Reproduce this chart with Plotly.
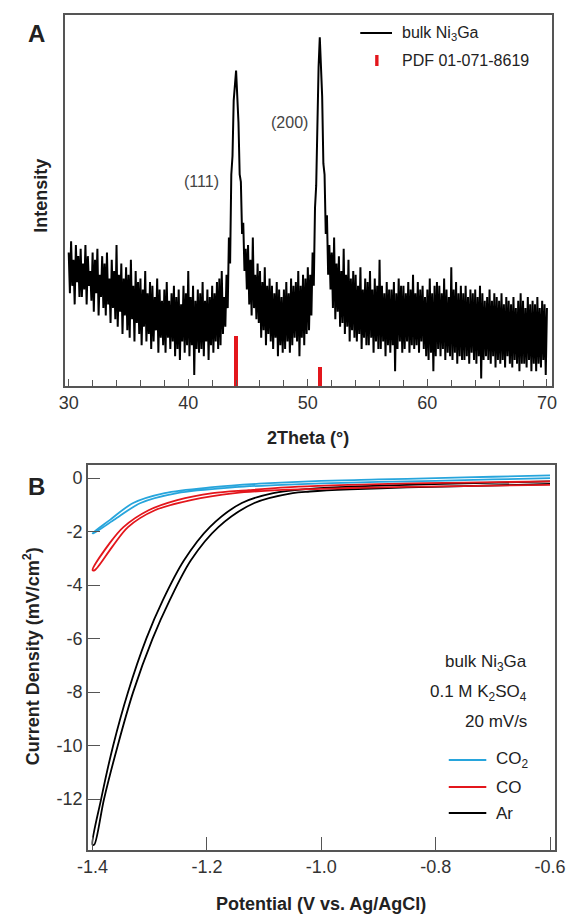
import numpy as np
import plotly.graph_objects as go

W, H = 581, 914

# ---------------- Panel A data (XRD) ----------------
two_theta_start, two_theta_step = 30.0, 0.1
intensity = [
    36, 25, 39, 27, 34, 22, 38, 28, 35, 24,
    37, 24, 33, 26, 38, 22, 35, 27, 31, 23,
    36, 20, 34, 25, 37, 19, 30, 24, 35, 21,
    33, 19, 36, 22, 29, 17, 34, 21, 31, 18,
    38, 16, 30, 20, 33, 14, 29, 19, 32, 15,
    30, 13, 34, 18, 27, 12, 31, 17, 28, 14,
    29, 11, 26, 16, 31, 12, 25, 14, 28, 10,
    27, 12, 24, 15, 29, 9, 26, 13, 23, 11,
    26, 9, 28, 13, 23, 10, 25, 12, 27, 8,
    24, 10, 26, 7, 22, 12, 27, 9, 25, 11,
    31, 8, 24, 11, 27, 3, 23, 10, 26, 9,
    25, 10, 28, 8, 23, 12, 26, 7, 24, 11,
    27, 9, 25, 12, 28, 10, 29, 11, 31, 14,
    24, 16, 30, 21, 40, 33, 57, 62, 77, 82,
    85, 78, 71, 57, 55, 41, 44, 31, 37, 26,
    38, 22, 34, 19, 40, 21, 30, 18, 33, 17,
    31, 13, 28, 15, 32, 11, 27, 14, 29, 12,
    27, 10, 25, 13, 28, 8, 26, 11, 24, 9,
    26, 10, 28, 12, 25, 9, 29, 11, 27, 13,
    28, 12, 31, 8, 27, 13, 30, 11, 29, 14,
    32, 15, 30, 19, 36, 27, 48, 54, 73, 86,
    94, 83, 78, 60, 57, 41, 46, 30, 38, 26,
    36, 21, 40, 18, 33, 20, 35, 16, 31, 17,
    37, 14, 30, 16, 34, 12, 29, 15, 31, 13,
    30, 12, 27, 14, 32, 10, 26, 13, 29, 11,
    28, 11, 31, 13, 26, 9, 29, 12, 27, 10,
    34, 10, 27, 12, 25, 8, 28, 11, 26, 9,
    26, 11, 28, 4, 25, 10, 29, 12, 27, 9,
    27, 10, 25, 12, 28, 9, 26, 11, 30, 10,
    25, 11, 28, 9, 26, 12, 27, 10, 24, 8,
    26, 7, 29, 9, 25, 4, 27, 8, 28, 10,
    27, 8, 25, 10, 29, 7, 26, 9, 24, 8,
    32, 7, 26, 9, 28, 6, 25, 8, 27, 7,
    25, 7, 27, 8, 24, 6, 26, 9, 25, 7,
    26, 6, 24, 8, 27, 2, 25, 7, 23, 8,
    24, 7, 26, 6, 23, 8, 25, 5, 24, 7,
    23, 6, 25, 7, 22, 5, 24, 8, 23, 6,
    22, 5, 24, 7, 21, 6, 23, 4, 25, 6,
    23, 6, 21, 5, 24, 7, 22, 4, 23, 6,
    22, 4, 24, 6, 21, 5, 23, 7, 22, 3,
    21,
]
two_theta = np.round(two_theta_start + two_theta_step * np.arange(len(intensity)), 2)

pdf_positions = [44.0, 51.0]
pdf_heights = [13.5, 5.2]

xrd_ticks = [30, 40, 50, 60, 70]
xrd_ticktext = ["30", "40", "50", "60", "70"]

# ---------------- Panel B data (LSV / CV) ----------------
ar_v_a = [-0.60, -0.75, -0.85, -0.95, -1.02, -1.084, -1.139, -1.195, -1.240, -1.277, -1.306, -1.338, -1.364, -1.385, -1.400]
ar_j_a = [-0.12, -0.20, -0.25, -0.32, -0.40, -0.56, -0.93, -1.83, -3.07, -4.56, -6.0, -8.0, -10.0, -12.0, -13.7]
ar_v_b = [-1.397, -1.380, -1.356, -1.329, -1.295, -1.265, -1.228, -1.180, -1.117, -1.050, -1.02, -0.95, -0.85, -0.75, -0.60]
ar_j_b = [-13.7, -12.0, -10.0, -8.0, -6.0, -4.56, -3.07, -1.83, -0.93, -0.56, -0.50, -0.42, -0.35, -0.30, -0.22]

co_v_a = [-0.60, -0.75, -0.85, -0.95, -1.04, -1.127, -1.190, -1.252, -1.302, -1.346, -1.370, -1.400]
co_j_a = [-0.12, -0.17, -0.20, -0.25, -0.32, -0.45, -0.56, -0.82, -1.20, -1.83, -2.43, -3.44]
co_v_b = [-1.396, -1.365, -1.338, -1.291, -1.228, -1.151, -1.077, -1.00, -0.95, -0.85, -0.75, -0.60]
co_j_b = [-3.44, -2.55, -1.83, -1.20, -0.82, -0.56, -0.45, -0.40, -0.37, -0.33, -0.30, -0.25]

co2_v_a = [-0.60, -0.70, -0.80, -0.90, -1.00, -1.10, -1.190, -1.274, -1.329, -1.370, -1.400]
co2_j_a = [0.10, 0.05, 0.00, -0.05, -0.10, -0.20, -0.34, -0.56, -0.93, -1.57, -2.06]
co2_v_b = [-1.398, -1.363, -1.316, -1.252, -1.151, -1.08, -1.00, -0.90, -0.80, -0.70, -0.60]
co2_j_b = [-2.06, -1.57, -0.93, -0.56, -0.34, -0.26, -0.20, -0.14, -0.10, -0.05, 0.00]

lsv_xticks = [-1.4, -1.2, -1.0, -0.8, -0.6]
lsv_xticktext = ["-1.4", "-1.2", "-1.0", "-0.8", "-0.6"]
lsv_yticks = [0, -2, -4, -6, -8, -10, -12]
lsv_yticktext = ["0", "-2", "-4", "-6", "-8", "-10", "-12"]

gas_names = ["CO<sub>2</sub>", "CO", "Ar"]
gas_colors = ["#27a5dc", "#e3161c", "#000000"]

FONT = "Liberation Sans, Arial, sans-serif"
BOX = "#555555"


def px(x):
    return x / W


def py(y):
    return 1 - y / H


fig = go.Figure()

# Panel A
fig.add_trace(go.Bar(x=pdf_positions, y=pdf_heights, width=0.35,
                     marker=dict(color="#e3161c", line=dict(width=0)),
                     xaxis="x", yaxis="y", showlegend=False))
fig.add_trace(go.Scatter(x=two_theta, y=intensity, mode="lines",
                         line=dict(color="black", width=2.0),
                         xaxis="x", yaxis="y", showlegend=False))

# Panel B (each gas: forward + reverse sweep as a loop)
loops = [
    (ar_v_a + ar_v_b, ar_j_a + ar_j_b, gas_colors[2]),
    (co_v_a + co_v_b, co_j_a + co_j_b, gas_colors[1]),
    (co2_v_a + co2_v_b, co2_j_a + co2_j_b, gas_colors[0]),
]
for v, j, c in loops:
    fig.add_trace(go.Scatter(x=v, y=j, mode="lines",
                             line=dict(color=c, width=1.8, shape="spline", smoothing=0.9),
                             xaxis="x2", yaxis="y2", showlegend=False))

axis_common = dict(showline=True, linecolor=BOX, linewidth=1.5, mirror=True,
                   showgrid=False, zeroline=False, fixedrange=True)

fig.update_layout(
    width=W, height=H,
    margin=dict(l=0, r=0, t=0, b=0),
    paper_bgcolor="white", plot_bgcolor="white",
    font=dict(family=FONT, color="#222"),
    showlegend=False,
    bargap=0,
    xaxis=dict(domain=[px(56), px(562)], range=[29.68, 70.4], anchor="y",
               tickvals=xrd_ticks, ticktext=xrd_ticktext,
               ticks="inside", ticklen=7, tickcolor=BOX, tickwidth=1.3,
               minor=dict(dtick=2, tick0=30, ticks="inside", ticklen=6, tickcolor=BOX, tickwidth=1.2),
               tickfont=dict(size=18, color="#333"), **axis_common),
    yaxis=dict(domain=[py(386), py(15)], range=[0, 100], anchor="x",
               showticklabels=False, ticks="", **axis_common),
    xaxis2=dict(domain=[px(80), px(565)], range=[-1.408, -0.592], anchor="y2",
                tickvals=lsv_xticks, ticktext=lsv_xticktext,
                ticks="inside", ticklen=13, tickcolor=BOX, tickwidth=1.3,
                tickfont=dict(size=18, color="#333"), **axis_common),
    yaxis2=dict(domain=[py(850), py(465)], range=[-13.9, 0.49], anchor="x2",
                tickvals=lsv_yticks, ticktext=lsv_yticktext,
                ticks="inside", ticklen=12, tickcolor=BOX, tickwidth=1.3,
                tickfont=dict(size=18, color="#333"), **axis_common),
)

ann = []


def text(x, y, s, size=16, bold=False, xanchor="center", color="#222", angle=0):
    if bold:
        s = "<b>" + s + "</b>"
    ann.append(dict(x=px(x), y=py(y), xref="paper", yref="paper", text=s, showarrow=False,
                    xanchor=xanchor, yanchor="middle", textangle=angle,
                    font=dict(size=size, color=color, family=FONT)))


# Panel A texts
text(26, 33, "A", size=24, bold=True)
text(31, 196, "Intensity", size=18, bold=True, angle=-90)
text(309, 438, "2Theta (°)", size=18, bold=True)
text(198, 181, "(111)", size=16, color="#444")
text(289, 123, "(200)", size=16, color="#444")
text(404, 33, "bulk Ni<sub>3</sub>Ga", size=16, xanchor="left")
text(404, 60, "PDF 01-071-8619", size=16, xanchor="left")

# Panel B texts
text(27, 487, "B", size=24, bold=True)
text(21, 656, "Current Density (mV/cm<sup>2</sup>)", size=18, bold=True, angle=-90)
text(322, 904, "Potential (V vs. Ag/AgCl)", size=18, bold=True)
text(538, 663, "bulk Ni<sub>3</sub>Ga", size=17, xanchor="right")
text(538, 693, "0.1 M K<sub>2</sub>SO<sub>4</sub>", size=17, xanchor="right")
text(538, 721, "20 mV/s", size=17, xanchor="right")
legend_y = [760, 787, 813]
for name, c, yy in zip(gas_names, gas_colors, legend_y):
    text(502, yy, name, size=17, xanchor="left")

fig.update_layout(annotations=ann)

shapes = [
    dict(type="line", xref="paper", yref="paper", x0=px(363), x1=px(396), y0=py(33), y1=py(33),
         line=dict(color="black", width=2.2)),
    dict(type="rect", xref="paper", yref="paper", x0=px(378.5), x1=px(382), y0=py(55), y1=py(66),
         line=dict(width=0), fillcolor="#e3161c"),
]
for c, yy in zip(gas_colors, legend_y):
    shapes.append(dict(type="line", xref="paper", yref="paper", x0=px(455), x1=px(494),
                       y0=py(yy), y1=py(yy), line=dict(color=c, width=2.2)))
fig.update_layout(shapes=shapes)

fig.write_html("out.html")
